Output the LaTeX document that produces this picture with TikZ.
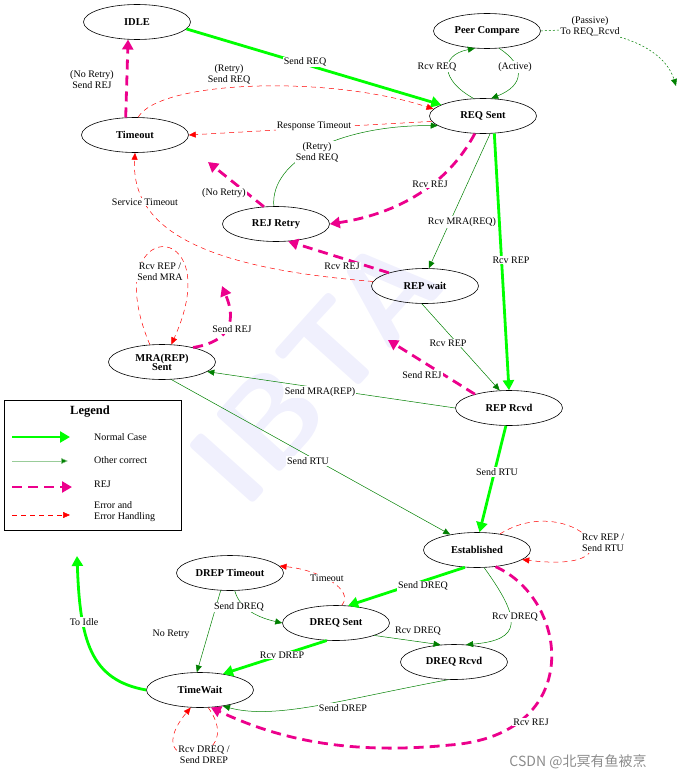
\documentclass[tikz,border=0pt]{standalone}
\usepackage{fontspec}
\setmainfont{Liberation Serif}
\newfontfamily\cjkf{Noto Sans CJK SC}
\usetikzlibrary{arrows.meta,shapes.geometric}
\definecolor{ngreen}{RGB}{0,255,0}
\definecolor{dgreen}{RGB}{0,128,0}
\definecolor{wm}{RGB}{240,240,253}
\begin{document}
\begin{tikzpicture}[x=1pt,y=-1pt,
 st/.style={ellipse,draw,line width=0.6pt,minimum width=107pt,minimum height=35pt,inner sep=0pt,font=\fontsize{10.5}{11}\selectfont\bfseries,align=center},
 lab/.style={fill=white,inner sep=1pt,font=\fontsize{10}{11}\selectfont,align=center},
 norm/.style={draw=ngreen,line width=2.8pt,-{Triangle[length=10pt,width=11pt]}},
 oth/.style={draw=dgreen,line width=0.5pt,-{Triangle[length=7pt,width=6pt]}},
 rej/.style={draw=magenta,line width=2.8pt,dash pattern=on 10pt off 6pt,-{Triangle[length=10pt,width=11pt]}},
 err/.style={draw=red,line width=0.5pt,dash pattern=on 5pt off 4pt,-{Triangle[length=7pt,width=6pt]}}]
\useasboundingbox (0,0) rectangle (683,781);
\node[rotate=48,text=wm,font=\fontsize{125}{125}\selectfont\bfseries\sffamily] (wmk) at (315,370) {IBTA};
% states
\node[st] (idle) at (137,22) {IDLE};
\node[st] (pc) at (487,31) {Peer Compare};
\node[st] (req) at (483,116) {REQ Sent};
\node[st] (to) at (135,135) {Timeout};
\node[st] (rejr) at (276,224) {REJ Retry};
\node[st] (repw) at (425,286) {REP wait};
\node[st] (mra) at (162,362) {MRA(REP)\\[-2pt]Sent};
\node[st] (reprcvd) at (509,408) {REP Rcvd};
\node[st] (est) at (477,550) {Established};
\node[st] (dt) at (230,573) {DREP Timeout};
\node[st] (dreqs) at (336,623) {DREQ Sent};
\node[st] (dreqr) at (454,662) {DREQ Rcvd};
\node[st] (tw) at (200,690) {TimeWait};
\coordinate (pas) at (676,86);
\coordinate (nr) at (208,162);
\coordinate (sr) at (388,340);
\coordinate (sj) at (222,286);
\coordinate (ti) at (77,556);
% edges
\draw[norm] (idle.-8) -- (req.165);
\draw[oth] (req.118) .. controls (440,80) and (440,55) .. (pc.235);
\draw[oth] (pc.-55) .. controls (525,65) and (525,85) .. (req.65);
\draw[oth,dash pattern=on 2pt off 2pt] (pc.east) .. controls (620,25) and (665,50) .. (pas);
\draw[err] (to.80) .. controls (160,80) and (330,75) .. (req.172);
\draw[err] (req.186) -- (to.east);
\draw[oth] (rejr.97) .. controls (270,160) and (340,125) .. (req.192);
\draw[rej] (req.245) .. controls (445,190) and (390,215) .. (rejr.east);
\draw[rej] (rejr.125) -- (nr);
\draw[rej] (to.118) -- (idle.243);
\draw[err] (repw.175) .. controls (230,270) and (130,240) .. (to.south);
\draw[oth] (req.292) -- (repw.78);
\draw[norm] (req.-57) -- (reprcvd.north);
\draw[rej] (repw.160) -- (rejr.-55);
\draw[oth] (repw.-100) -- (reprcvd.118);
\draw[rej] (reprcvd.158) -- (sr);
\draw[err] (mra.125) .. controls (95,215) and (230,215) .. (mra.62);
\draw[rej] (mra.25) .. controls (240,340) and (232,310) .. (sj);
\draw[oth] (reprcvd.west) -- (mra.-12);
\draw[oth] (mra.-62) -- (est.150);
\draw[norm] (reprcvd.-100) -- (est.82);
\draw[err] (est.35) .. controls (570,490) and (650,575) .. (est.-12);
\draw[norm] (est.235) -- (dreqs.55);
\draw[err] (dreqs.72) .. controls (355,590) and (320,570) .. (dt.8);
\draw[oth] (dt.-75) .. controls (240,610) and (260,618) .. (dreqs.west);
\draw[oth] (dt.-118) -- (tw.100);
\draw[oth] (dreqs.-18) -- (dreqr.128);
\draw[oth] (est.-68) .. controls (522,620) and (522,640) .. (dreqr.55);
\draw[norm] (dreqs.-118) -- (tw.35);
\draw[oth] (dreqr.-108) .. controls (340,700) and (275,720) .. (tw.-35);
\draw[rej] (est.-42) .. controls (570,600) and (585,735) .. (450,745) .. controls (350,755) and (280,740) .. (tw.-58);
\draw[err] (tw.-65) .. controls (250,765) and (135,775) .. (tw.-118);
\draw[norm] (tw.west) .. controls (90,680) and (80,640) .. (ti);
% labels
\node[lab] (l1) at (305,62) {Send REQ};
\node[lab] (l2) at (437,67) {Rcv REQ};
\node[lab] (l3) at (515,67) {(Active)};
\node[lab] (l4) at (590,26) {(Passive)\\To REQ\_Rcvd};
\node[lab] (l5) at (229,74) {(Retry)\\Send REQ};
\node[lab] (l6) at (314,126) {Response Timeout};
\node[lab] (l7) at (317,152) {(Retry)\\Send REQ};
\node[lab] (l8) at (430,184) {Rcv REJ};
\node[lab] (l9) at (224,193) {(No Retry)};
\node[lab] (l10) at (92,80) {(No Retry)\\Send REJ};
\node[lab] (l11) at (145,202) {Service Timeout};
\node[lab] (l12) at (462,222) {Rcv MRA(REQ)};
\node[lab] (l13) at (511,260) {Rcv REP};
\node[lab] (l14) at (342,266) {Rcv REJ};
\node[lab] (l15) at (448,343) {Rcv REP};
\node[lab] (l16) at (422,375) {Send REJ};
\node[lab] (l17) at (160,272) {Rcv REP /\\Send MRA};
\node[lab] (l18) at (232,329) {Send REJ};
\node[lab] (l19) at (320,392) {Send MRA(REP)};
\node[lab] (l20) at (308,461) {Send RTU};
\node[lab] (l21) at (497,472) {Send RTU};
\node[lab] (l22) at (603,543) {Rcv REP /\\Send RTU};
\node[lab] (l23) at (423,586) {Send DREQ};
\node[lab] (l24) at (327,578) {Timeout};
\node[lab] (l25) at (239,607) {Send DREQ};
\node[lab] (l26) at (171,634) {No Retry};
\node[lab] (l27) at (418,631) {Rcv DREQ};
\node[lab] (l28) at (515,617) {Rcv DREQ};
\node[lab] (l29) at (282,655) {Rcv DREP};
\node[lab] (l30) at (343,708) {Send DREP};
\node[lab] (l31) at (531,722) {Rcv REJ};
\node[lab] (l32) at (204,755) {Rcv DREQ /\\Send DREP};
\node[lab] (l33) at (84,622) {To Idle};
% legend
\node[draw,line width=0.8pt,minimum width=177pt,minimum height=130pt,inner sep=0pt] (leg) at (92.5,465) {};
\node[font=\fontsize{12.5}{13}\selectfont\bfseries] (legt) at (90,412) {Legend};
\coordinate (a1) at (12,437); \coordinate (b1) at (70,437);
\coordinate (a2) at (12,461); \coordinate (b2) at (68,461);
\coordinate (a3) at (12,487); \coordinate (b3) at (72,487);
\coordinate (a4) at (12,515); \coordinate (b4) at (70,515);
\draw[norm] (a1) -- (b1);
\draw[oth,draw=dgreen!40,-{Triangle[length=7pt,width=6pt,fill=dgreen]}] (a2) -- (b2);
\draw[rej] (a3) -- (b3);
\draw[err] (a4) -- (b4);
\node[lab,anchor=west] (n1) at (93,437) {Normal Case};
\node[lab,anchor=west] (n2) at (93,460) {Other correct};
\node[lab,anchor=west] (n3) at (93,484) {REJ};
\node[lab,anchor=west,align=left] (n4) at (93,512) {Error and\\Error Handling};
\node[text=black!45,font=\cjkf\fontsize{14}{15}\selectfont] (csdn) at (578,762) {CSDN @北冥有鱼被烹};
\end{tikzpicture}
\end{document}
